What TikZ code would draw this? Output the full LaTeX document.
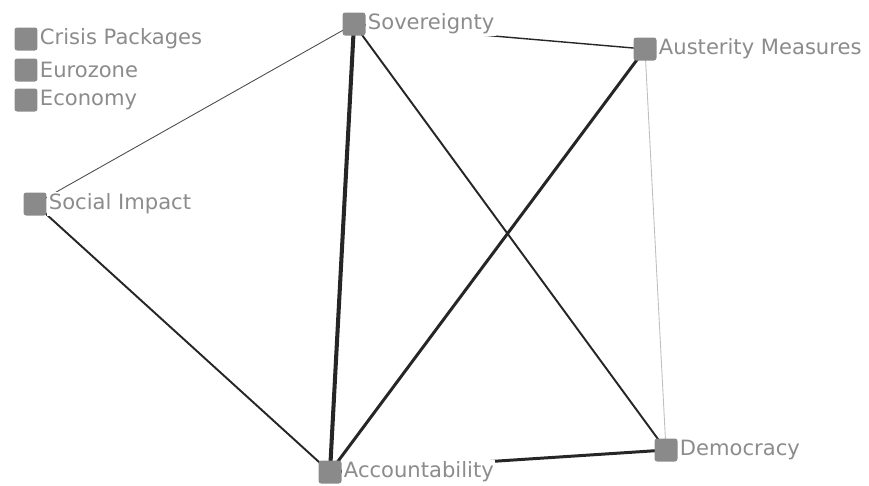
\documentclass[tikz,border=0pt]{standalone}
\usepackage{fontspec}
\setmainfont{DejaVu Sans}
\usepackage{tikz}
\usetikzlibrary{backgrounds}

\definecolor{boxgray}{HTML}{8A8A8A}
\definecolor{labelgray}{HTML}{8C8C8C}

\tikzset{
    topic/.style={rectangle, rounded corners=1.5pt, fill=boxgray, minimum size=0.46cm, inner sep=0pt},
    topiclabel/.style={anchor=west, fill=white, text=labelgray, inner sep=1pt, font=\fontsize{12}{14}\selectfont},
    tie/.style={draw=black!85, line cap=round}
}

\begin{document}
\begin{tikzpicture}[x=0.02cm, y=-0.02cm]
    \useasboundingbox (0, 0) rectangle (869, 485);

    % draw topic boxes
    \node[topic] (crisis) at (26, 39) {};
    \node[topic] (euro) at (26, 70) {};
    \node[topic] (econ) at (26, 100) {};
    \node[topic] (sov) at (354, 24) {};
    \node[topic] (aus) at (645, 49) {};
    \node[topic] (soc) at (35, 204) {};
    \node[topic] (acc) at (330, 472) {};
    \node[topic] (dem) at (666, 450) {};

    % draw ties
    \begin{scope}[on background layer]
        \draw[tie, line width=0.5pt, draw=black!70] (soc.center) -- (sov.center);
        \draw[tie, line width=0.8pt] (sov.center) -- (aus.center);
        \draw[tie, line width=2.3pt] (sov.center) -- (acc.center);
        \draw[tie, line width=1.1pt] (sov.center) -- (dem.center);
        \draw[tie, line width=1.7pt] (aus.center) -- (acc.center);
        \draw[tie, line width=0.5pt, draw=black!25] (aus.center) -- (dem.center);
        \draw[tie, line width=1.1pt] (soc.center) -- (acc.center);
        \draw[tie, line width=1.7pt] (acc.center) -- (dem.center);
    \end{scope}

    % draw labels
    \node[topiclabel] (crisislab) at (crisis.east) {Crisis Packages};
    \node[topiclabel] (eurolab) at (euro.east) {Eurozone};
    \node[topiclabel] (econlab) at (econ.east) {Economy};
    \node[topiclabel] (sovlab) at (sov.east) {Sovereignty};
    \node[topiclabel] (auslab) at (aus.east) {Austerity Measures};
    \node[topiclabel] (soclab) at (soc.east) {Social Impact};
    \node[topiclabel] (acclab) at (acc.east) {Accountability};
    \node[topiclabel] (demlab) at (dem.east) {Democracy};
\end{tikzpicture}
\end{document}
